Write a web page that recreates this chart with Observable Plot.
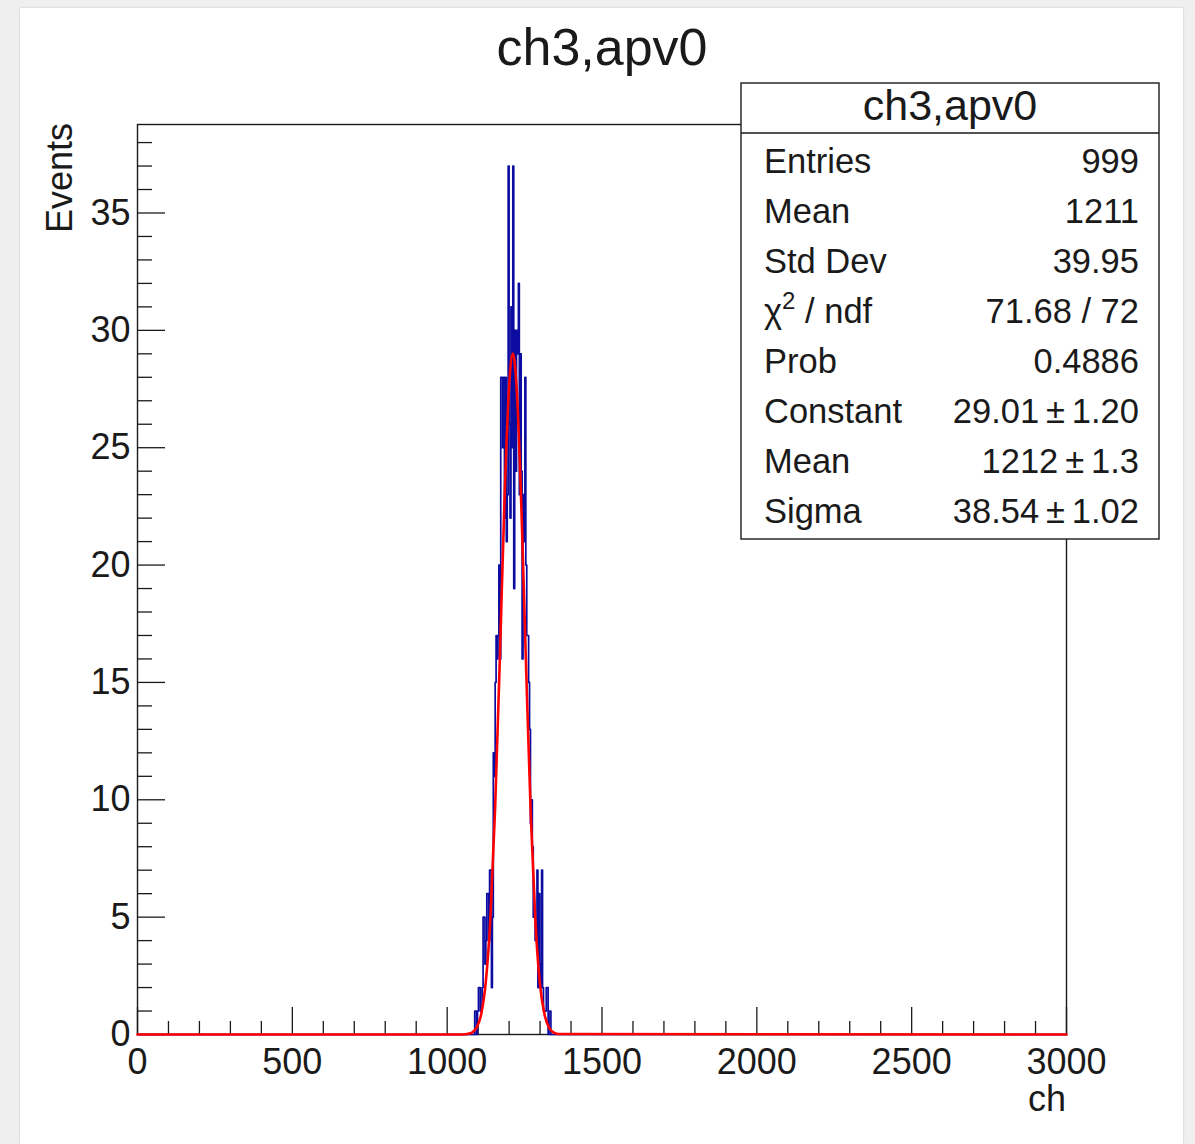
<!DOCTYPE html>
<html>
<head>
<meta charset="utf-8">
<script src="https://cdn.jsdelivr.net/npm/d3@7"></script>
<script src="https://cdn.jsdelivr.net/npm/@observablehq/plot@0.6"></script>
<style>
  html, body { margin: 0; padding: 0; background: #efefef; }
  #page { position: absolute; left: 20px; top: 8px; width: 1163px; height: 1136px; background: #fff;
          box-shadow: 0 0 2px rgba(0,0,0,0.18); }
  #chart { position: absolute; left: 0; top: 0; }
</style>
</head>
<body>
<div id="page"></div>
<div id="chart"></div>
<script>
// ---- Data ----
const title = "ch3,apv0";
const xLabel = "ch";
const yLabel = "Events";
const xRange = [0, 3000];
const yMax = 38.77;
const binWidth = 3;
const binStart = 1089;
const counts = [
  1, 1, 0, 1, 2, 2, 1, 1, 2, 5, 5, 3, 4, 6, 6, 4, 7, 7,          // 1089..1140
  2, 5, 12, 11, 15, 17, 16, 17, 20, 16, 28, 28, 25, 28, 22, 28,  // 1143..1188
  21, 23, 37, 26, 22, 31, 25, 37, 19, 30, 24, 30, 29, 32, 23, 29,// 1191..1236
  24, 16, 23, 21, 28, 20, 17, 17, 15, 13, 9, 10, 8, 5, 5, 4,     // 1239..1284
  4, 7, 2, 6, 3, 2, 7, 2, 1, 1, 1, 2, 2, 0, 1, 1                 // 1287..1332
];
const fitX = [0, 1050, 1065, 1080, 1095, 1110, 1125, 1140, 1155, 1170, 1185, 1200, 1212, 1225, 1240, 1255, 1270, 1285, 1300, 1315, 1330, 1345, 1360, 3000];
const fitY = [0, 0, 0.02, 0.08, 0.29, 0.87, 2.27, 5.07, 9.7, 16.0, 22.7, 27.6, 29.01, 27.4, 22.3, 15.6, 9.35, 4.8, 2.1, 0.82, 0.27, 0.08, 0.02, 0];
const xMajor = [0, 500, 1000, 1500, 2000, 2500, 3000];
const xMinor = d3.range(0, 3001, 100).filter(v => v % 500 !== 0);
const yMajor = [0, 5, 10, 15, 20, 25, 30, 35];
const yMinor = d3.range(0, 39, 1).filter(v => v % 5 !== 0);
const statsTitle = "ch3,apv0";
const statsNames = ["Entries", "Mean", "Std Dev", "CHI2", "Prob", "Constant", "Mean", "Sigma"];
const statsValues = ["999", "1211", "39.95", "71.68 / 72", "0.4886", "29.01\u2009\u00b1\u20091.20", "1212\u2009\u00b1\u20091.3", "38.54\u2009\u00b1\u20091.02"];

// ---- Build tables ----
const histPts = [{x: xRange[0], y: 0}];
counts.forEach((c, i) => histPts.push({x: binStart + i * binWidth, y: c}));
histPts.push({x: binStart + counts.length * binWidth, y: 0});
histPts.push({x: xRange[1], y: 0});
const fitPts = fitX.map((x, i) => ({x, y: fitY[i]}));

const W = 1195, H = 1144;
const fL = 137, fR = 1066, fT = 124, fB = 1034;
const plotW = fR - fL, plotH = fB - fT;
const font = "'Liberation Sans', Arial, Helvetica, sans-serif";
const ink = "#1a1a1a";

const chart = Plot.plot({
  width: W, height: H,
  marginLeft: fL, marginRight: W - fR, marginTop: fT, marginBottom: H - fB,
  x: {domain: xRange, axis: null},
  y: {domain: [0, yMax], axis: null},
  style: {fontFamily: font, background: "transparent", overflow: "visible", color: ink},
  marks: [
    Plot.frame({stroke: ink, strokeWidth: 1.4}),
    Plot.tickX(xMajor, {x: d => d, insetTop: plotH - 27, stroke: ink, strokeWidth: 1.3}),
    Plot.tickX(xMinor, {x: d => d, insetTop: plotH - 13, stroke: ink, strokeWidth: 1.3}),
    Plot.tickY(yMajor, {y: d => d, insetRight: plotW - 28, stroke: ink, strokeWidth: 1.3}),
    Plot.tickY(yMinor, {y: d => d, insetRight: plotW - 15, stroke: ink, strokeWidth: 1.3}),
    Plot.line(histPts, {x: "x", y: "y", curve: "step-after", stroke: "#0c0ca0", strokeWidth: 1.7}),
    Plot.line(fitPts, {x: "x", y: "y", curve: "monotone-x", stroke: "#ff0000", strokeWidth: 2.6}),
    Plot.text(xMajor, {x: d => d, text: d => String(d), frameAnchor: "bottom", lineAnchor: "top", dy: 14, fontSize: 36, fill: ink}),
    Plot.text(yMajor, {y: d => d, text: d => String(d), frameAnchor: "left", textAnchor: "end", dx: -7, fontSize: 36, fill: ink})
  ]
});
document.getElementById("chart").appendChild(chart);

// ---- Annotations: title, axis labels, stats box ----
const svg = d3.select(chart);
svg.append("text").attr("x", 602).attr("y", 65).attr("text-anchor", "middle")
  .attr("font-size", 52).attr("fill", ink).attr("font-family", font).text(title);
svg.append("text").attr("transform", "translate(72,123) rotate(-90)").attr("text-anchor", "end")
  .attr("font-size", 36).attr("fill", ink).attr("font-family", font).text(yLabel);
svg.append("text").attr("x", fR).attr("y", 1111).attr("text-anchor", "end")
  .attr("font-size", 36).attr("fill", ink).attr("font-family", font).text(xLabel);

const box = svg.append("g").attr("font-family", font).attr("fill", ink);
box.append("rect").attr("x", 741).attr("y", 83).attr("width", 418).attr("height", 456)
  .attr("fill", "#fff").attr("stroke", ink).attr("stroke-width", 1.4);
box.append("line").attr("x1", 741).attr("x2", 1159).attr("y1", 133).attr("y2", 133)
  .attr("stroke", ink).attr("stroke-width", 1.4);
box.append("text").attr("x", 950).attr("y", 120).attr("text-anchor", "middle")
  .attr("font-size", 43).text(statsTitle);
statsNames.forEach((name, i) => {
  const y = 172.5 + i * 50;
  const t = box.append("text").attr("x", 764).attr("y", y).attr("text-anchor", "start").attr("font-size", 34.5);
  if (name === "CHI2") {
    t.append("tspan").text("\u03c7");
    t.append("tspan").attr("font-size", 24).attr("dy", -14).text("2");
    t.append("tspan").attr("dy", 14).text(" / ndf");
  } else {
    t.text(name);
  }
  box.append("text").attr("x", 1139).attr("y", y).attr("text-anchor", "end")
    .attr("font-size", 34.5).text(statsValues[i]);
});
</script>
</body>
</html>
